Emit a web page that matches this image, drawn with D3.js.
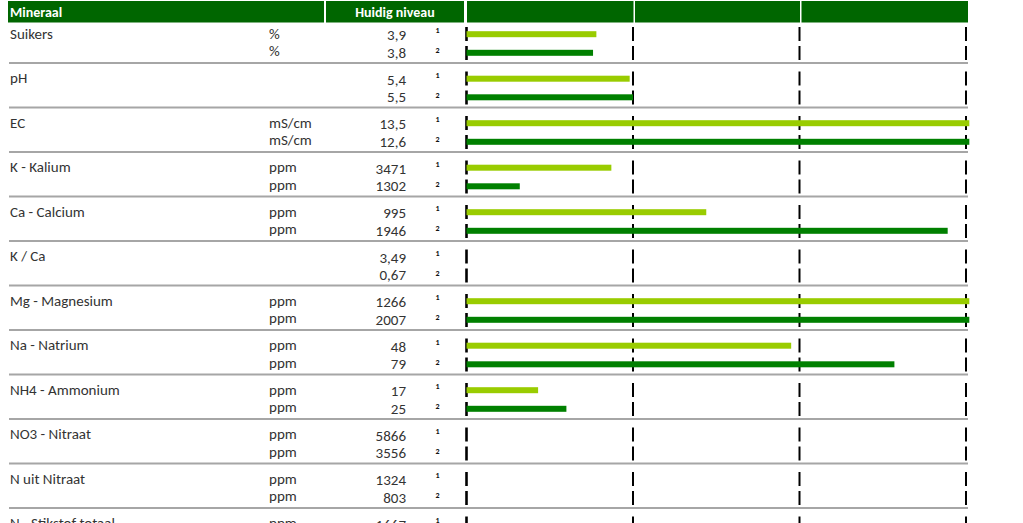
<!DOCTYPE html>
<html><head><meta charset="utf-8">
<script src="https://cdn.jsdelivr.net/npm/d3@7"></script>
<style>
html,body{margin:0;padding:0;background:#fff;overflow:hidden}
svg{display:block}
text{font-family:Carlito,Calibri,"Open Sans",sans-serif}
</style></head><body>
<svg id="chart" width="1023" height="523"></svg>
<script>
// ---- data ----
const headers = ["Mineraal", "Huidig niveau"];
const minerals = ["Suikers","pH","EC","K - Kalium","Ca - Calcium","K / Ca","Mg - Magnesium","Na - Natrium","NH4 - Ammonium","NO3 - Nitraat","N uit Nitraat","N - Stikstof totaal"];
const units = ["%","","mS/cm","ppm","ppm","","ppm","ppm","ppm","ppm","ppm","ppm"];
const values1 = ["3,9","5,4","13,5","3471","995","3,49","1266","48","17","5866","1324","1667"];
const values2 = ["3,8","5,5","12,6","1302","1946","0,67","2007","79","25","3556","803",""];
const sampleLabels = ["1","2"];
// bar position on the 0..3 zone scale (null = no bar)
const bars1 = [0.78, 0.98, 3.02, 0.87, 1.44, null, 3.02, 1.95, 0.43, null, null, null];
const bars2 = [0.76, 1.0, 3.02, 0.32, 2.89, null, 3.02, 2.57, 0.60, null, null, null];
const zoneTicks = [0, 1, 2, 3];

// ---- layout ----
const svg = d3.select("#chart");
const x = d3.scaleLinear().domain([0, 3]).range([466.5, 966]);
const gy = d3.scaleLinear().domain([0, 1]).range([18.5, 63]); // group top
const colLeft = 8, colRight = 968;
const lightGreen = "#99cc00", darkGreen = "#008000", headGreen = "#006600";

// header
const headSegs = [[colLeft, 324], [326, 464]];
zoneTicks.slice(0, 3).forEach((t, i) => headSegs.push([x(t) + (i === 0 ? 0.5 : 2), x(t + 1) + (i === 2 ? 2 : 0.5)]));
svg.selectAll("rect.head").data(headSegs).join("rect")
  .attr("x", d => d[0]).attr("y", 1).attr("width", d => d[1] - d[0]).attr("height", 21.5)
  .attr("fill", headGreen);
svg.append("text").attr("x", 10).attr("y", 16.5).attr("fill", "#fff")
  .attr("font-weight", "bold").attr("font-size", 14).text(headers[0]);
svg.append("text").attr("x", 395).attr("y", 16.5).attr("fill", "#fff").attr("text-anchor", "middle")
  .attr("font-weight", "bold").attr("font-size", 14).text(headers[1]);

const groups = svg.selectAll("g.grp").data(minerals).join("g")
  .attr("class", "grp")
  .attr("transform", (d, i) => `translate(0,${gy(i)})`);

// separators
groups.filter((d, i) => i > 0).append("line")
  .attr("x1", colLeft + 1).attr("x2", colRight).attr("y1", 0).attr("y2", 0)
  .attr("stroke", "#a6a6a6").attr("stroke-width", 2);

const fs = 15;
const rowBase = [20, 37.5];
groups.append("text").attr("x", 10).attr("y", rowBase[0]).attr("font-size", fs).attr("fill", "#333").text(d => d);
groups.each(function (d, i) {
  const g = d3.select(this);
  [0, 1].forEach(r => {
    if (units[i]) g.append("text").attr("x", 269).attr("y", rowBase[r]).attr("font-size", fs).attr("fill", "#333").text(units[i]);
    const v = r === 0 ? values1[i] : values2[i];
    if (v !== "") g.append("text").attr("x", 406).attr("y", rowBase[r] + 1.5).attr("text-anchor", "end")
      .attr("font-size", fs).attr("fill", "#333").text(v);
    g.append("text").attr("x", 435.5).attr("y", r === 0 ? 14.5 : 34.5).attr("font-size", 8)
      .attr("font-weight", "bold").attr("fill", "#111").text(sampleLabels[r]);
    // zone ticks (dashes)
    zoneTicks.forEach((t, k) => {
      g.append("line").attr("x1", x(t)).attr("x2", x(t))
        .attr("y1", r === 0 ? 8.5 : 27.5).attr("y2", r === 0 ? 22.5 : 41.5)
        .attr("stroke", "#000").attr("stroke-width", k === 0 ? 2.6 : 2);
    });
    const b = r === 0 ? bars1[i] : bars2[i];
    if (b !== null) g.append("rect").attr("x", x(0)).attr("y", (r === 0 ? 15.7 : 34.3) - 3)
      .attr("width", x(b) - x(0)).attr("height", 6)
      .attr("fill", r === 0 ? lightGreen : darkGreen);
  });
});
</script></body></html>
